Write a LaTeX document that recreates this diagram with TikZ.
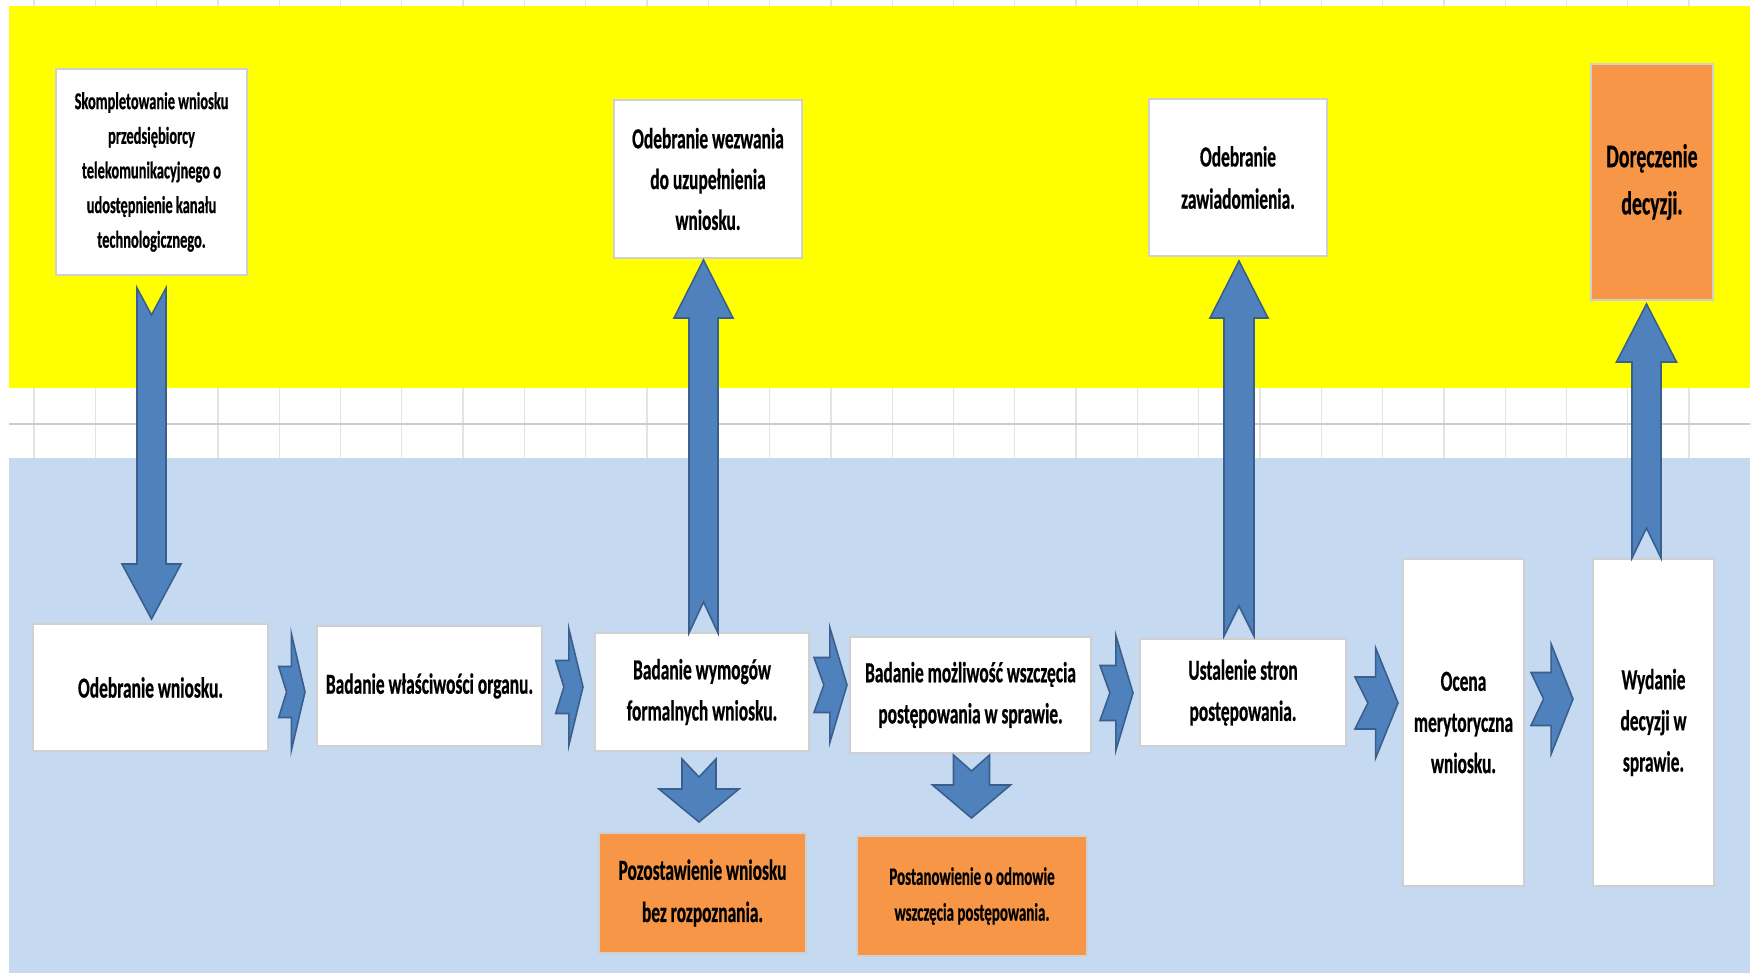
\documentclass[tikz,border=0pt]{standalone}
\usepackage{fontspec}
\newfontfamily\boxfont{Carlito}[FakeStretch=0.6, FakeBold=0.6]
\definecolor{bgyellow}{HTML}{FFFF00}
\definecolor{bgblue}{HTML}{C5D9F1}
\definecolor{orangebox}{HTML}{F79646}
\definecolor{arrowblue}{HTML}{4F81BD}
\definecolor{arrowedge}{HTML}{3A5F8C}
\definecolor{gridgray}{HTML}{E4E4E4}
\definecolor{gridline2}{HTML}{CDCDCD}
\definecolor{boxline}{HTML}{D0D0D0}
\tikzset{
  box/.style={draw=boxline, fill=white, line width=0.35pt, inner sep=0pt, align=center,
    font=\boxfont\bfseries\fontsize{8.25}{11.7}\selectfont},
  obox/.style={box, fill=orangebox},
  blockarrow/.style={fill=arrowblue, draw=arrowedge, line width=0.45pt, line join=miter},
  gridl/.style={draw=gridgray, line width=0.35pt},
}
% notched right block arrow: #1 left x, #2 tip x, #3 centre y, #4 shaft half height, #5 head half height
\newcommand\myRarrow[5]{%
  \draw[blockarrow] ({#1},{#3-#4}) -- ({#1+0.48*(#2-#1)},{#3-#4}) -- ({#1+0.48*(#2-#1)},{#3-#5})
    -- ({#2},{#3}) -- ({#1+0.48*(#2-#1)},{#3+#5}) -- ({#1+0.48*(#2-#1)},{#3+#4})
    -- ({#1},{#3+#4}) -- ({#1+0.3*(#2-#1)},{#3}) -- cycle;}
% notched vertical block arrow: #1 centre x, #2 tail y, #3 tip y, #4 shaft half width, #5 head half width, #6 head base y, #7 notch y
\newcommand\myVarrow[7]{%
  \draw[blockarrow] ({#1-#4},{#2}) -- ({#1},{#7}) -- ({#1+#4},{#2}) -- ({#1+#4},{#6})
    -- ({#1+#5},{#6}) -- ({#1},{#3}) -- ({#1-#5},{#6}) -- ({#1-#4},{#6}) -- cycle;}
\begin{document}
\begin{tikzpicture}[x=0.01cm,y=-0.01cm]
\useasboundingbox (0,0) rectangle (1750,973);
\fill[white] (0,0) rectangle (1750,973);
% spreadsheet grid
\foreach \i in {0,...,28} { \draw[gridl] ({34+61.3*\i},0) -- ({34+61.3*\i},973); }
\draw[draw=gridline2, line width=0.6pt] (9,424) -- (1750,424);
% bands
\fill[bgyellow] (9,6) rectangle (1750,388);
\fill[bgblue] (9,458) rectangle (1750,973);

% top row
\node[box, minimum width=1.91cm, minimum height=2.06cm, font=\boxfont\bfseries\fontsize{6.85}{9.85}\selectfont] (n1) at (151.5,172)
  {Skompletowanie wniosku\\przedsiębiorcy\\telekomunikacyjnego o\\udostępnienie kanału\\technologicznego.};
\node[box, minimum width=1.88cm, minimum height=1.58cm, font=\boxfont\bfseries\fontsize{8.25}{11.6}\selectfont] (n2) at (708,179)
  {Odebranie wezwania\\do uzupełnienia\\wniosku.};
\node[box, minimum width=1.78cm, minimum height=1.57cm, font=\boxfont\bfseries\fontsize{8.25}{12}\selectfont] (n3) at (1238,177.5)
  {Odebranie\\zawiadomienia.};
\node[obox, minimum width=1.22cm, minimum height=2.36cm, font=\boxfont\bfseries\fontsize{9.4}{13.4}\selectfont] (n4) at (1652,182)
  {Doręczenie\\decyzji.};

% bottom row
\node[box, minimum width=2.35cm, minimum height=1.27cm] (n5) at (150.5,687.5) {Odebranie wniosku.};
\node[box, minimum width=2.25cm, minimum height=1.20cm] (n6) at (429.5,686) {Badanie właściwości organu.};
\node[box, minimum width=2.14cm, minimum height=1.18cm] (n7) at (702,692) {Badanie wymogów\\formalnych wniosku.};
\node[box, minimum width=2.41cm, minimum height=1.16cm] (n8) at (970.5,695) {Badanie możliwość wszczęcia\\postępowania w sprawie.};
\node[box, minimum width=2.06cm, minimum height=1.07cm] (n9) at (1243,692.5) {Ustalenie stron\\postępowania.};
\node[box, minimum width=1.21cm, minimum height=3.27cm] (n10) at (1463.5,722.5) {Ocena\\merytoryczna\\wniosku.};
\node[box, minimum width=1.21cm, minimum height=3.27cm] (n11) at (1653.5,722.5) {Wydanie\\decyzji w\\sprawie.};
\node[obox, minimum width=2.07cm, minimum height=1.20cm, font=\boxfont\bfseries\fontsize{8.25}{12}\selectfont] (n12) at (702.5,893)
  {Pozostawienie wniosku\\bez rozpoznania.};
\node[obox, minimum width=2.30cm, minimum height=1.20cm, font=\boxfont\bfseries\fontsize{7.1}{10.2}\selectfont] (n13) at (972,896)
  {Postanowienie o odmowie\\wszczęcia postępowania.};

% vertical block arrows
\myVarrow{151.5}{288}{619}{14.5}{29.5}{564}{315}   % n1 -> n5
\myVarrow{703.5}{633}{260}{14.5}{29.5}{318}{602}   % n7 -> n2
\myVarrow{1239}{636}{261}{15}{29}{318}{606}        % n9 -> n3
\myVarrow{1646.5}{558}{304}{14.5}{30}{362}{528}    % n11 -> n4
\myVarrow{699}{759}{822}{17}{40}{789}{777}         % n7 -> n12
\myVarrow{971.5}{755}{818}{18}{39}{785}{771}       % n8 -> n13

% horizontal block arrows
\myRarrow{278.7}{305}{692}{25.5}{58.5}   % n5 -> n6
\myRarrow{555.7}{583}{687}{26.5}{58.5}   % n6 -> n7
\myRarrow{814}{847}{685}{27.5}{57.5}     % n7 -> n8
\myRarrow{1100}{1133}{693}{27.5}{57.5}   % n8 -> n9
\myRarrow{1355}{1398}{703}{26}{55}       % n9 -> n10
\myRarrow{1531}{1573}{699}{26.5}{55}     % n10 -> n11
\end{tikzpicture}
\end{document}
